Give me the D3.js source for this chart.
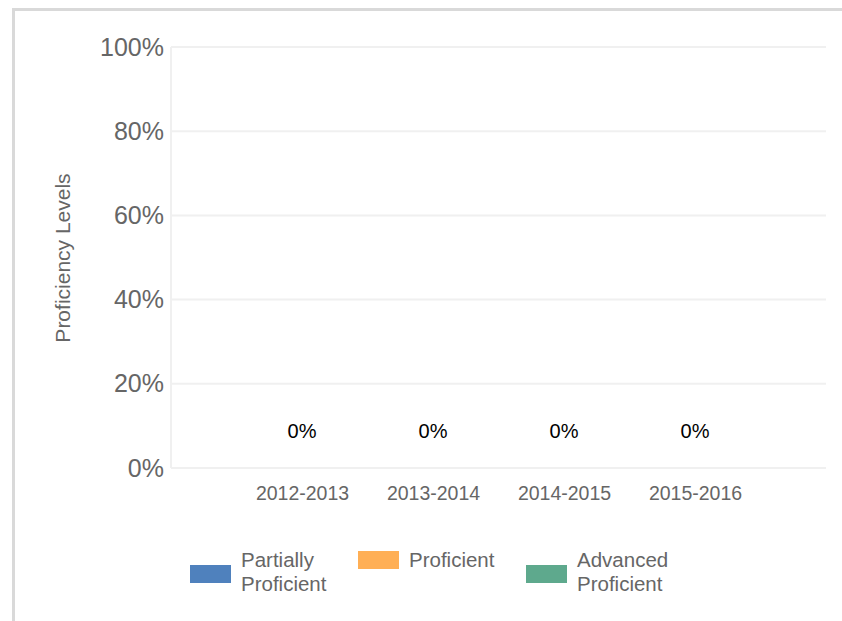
<!DOCTYPE html>
<html>
<head>
<meta charset="utf-8">
<script src="https://cdn.jsdelivr.net/npm/d3@7"></script>
<style>
  body { margin: 0; background: #fff; }
  svg { display: block; font-family: "Liberation Sans", Arial, sans-serif; }
</style>
</head>
<body>
<svg id="chart" width="842" height="621"></svg>
<script>
const years = ['2012-2013', '2013-2014', '2014-2015', '2015-2016'];
const partiallyProficient = [0, 0, 0, 0];
const proficient = [0, 0, 0, 0];
const advancedProficient = [0, 0, 0, 0];
const yTicks = [0, 20, 40, 60, 80, 100];
const seriesNames = ['Partially Proficient', 'Proficient', 'Advanced Proficient'];
const seriesColors = ['#4f81bd', '#ffaf55', '#5ea98d'];

const svg = d3.select('#chart');
const margin = {top: 47, right: 16, bottom: 153, left: 171};
const width = 842 - margin.left - margin.right;
const height = 621 - margin.top - margin.bottom;

// outer frame
svg.append('rect')
    .attr('x', 13.5).attr('y', 9.5)
    .attr('width', 842).attr('height', 630)
    .attr('fill', 'none')
    .attr('stroke', '#d9d9d9')
    .attr('stroke-width', 3);

const g = svg.append('g')
    .attr('transform', `translate(${margin.left},${margin.top})`);

const x = d3.scalePoint()
    .domain(years)
    .range([0, width])
    .padding(1);

const y = d3.scaleLinear()
    .domain([0, 100])
    .range([height, 0]);

// gridlines
g.selectAll('line.grid')
    .data(yTicks)
    .join('line')
    .classed('grid', true)
    .attr('x1', 0).attr('x2', width)
    .attr('y1', d => y(d)).attr('y2', d => y(d))
    .attr('stroke', '#f0f0f0')
    .attr('stroke-width', 2);

g.append('line')
    .attr('x1', 0).attr('x2', 0)
    .attr('y1', 0).attr('y2', height)
    .attr('stroke', '#f0f0f0')
    .attr('stroke-width', 2);

// y axis
const yAxis = g.append('g')
    .call(d3.axisLeft(y).tickValues(yTicks).tickFormat(d => d + '%').tickSize(0).tickPadding(7));
yAxis.select('.domain').remove();
yAxis.selectAll('text')
    .attr('fill', '#666')
    .style('font-size', '25px')
    .style('font-family', '"Liberation Sans", Arial, sans-serif');

// x axis
const xAxis = g.append('g')
    .attr('transform', `translate(0,${height})`)
    .call(d3.axisBottom(x).tickSize(0).tickPadding(18));
xAxis.select('.domain').remove();
xAxis.selectAll('text')
    .attr('fill', '#666')
    .style('font-size', '19.5px')
    .style('font-family', '"Liberation Sans", Arial, sans-serif');

// stacked bars (all zero)
const rows = years.map((yr, i) => ({
    year: yr,
    'Partially Proficient': partiallyProficient[i],
    'Proficient': proficient[i],
    'Advanced Proficient': advancedProficient[i]
}));
const stacked = d3.stack().keys(seriesNames)(rows);
const barW = 60;
g.selectAll('g.series')
    .data(stacked)
    .join('g')
    .classed('series', true)
    .attr('fill', (d, i) => seriesColors[i])
    .selectAll('rect')
    .data(d => d)
    .join('rect')
    .attr('x', d => x(d.data.year) - barW / 2)
    .attr('width', barW)
    .attr('y', d => y(d[1]))
    .attr('height', d => y(d[0]) - y(d[1]));

// total labels
const totalOf = d => d['Partially Proficient'] + d['Proficient'] + d['Advanced Proficient'];
g.selectAll('text.total')
    .data(rows)
    .join('text')
    .classed('total', true)
    .attr('x', d => x(d.year))
    .attr('y', d => y(totalOf(d)) - 30)
    .attr('text-anchor', 'middle')
    .attr('fill', '#000')
    .style('font-size', '20px')
    .text(d => totalOf(d) + '%');

// y axis title
svg.append('text')
    .attr('transform', 'translate(70,258) rotate(-90)')
    .attr('text-anchor', 'middle')
    .attr('fill', '#666')
    .style('font-size', '21px')
    .text('Proficiency Levels');

// legend
const legendItems = [
    {lines: ['Partially', 'Proficient'], x: 190},
    {lines: ['Proficient'], x: 358},
    {lines: ['Advanced', 'Proficient'], x: 526}
];
const legend = svg.append('g');
legendItems.forEach((item, i) => {
    const lg = legend.append('g').attr('transform', `translate(${item.x},0)`);
    const midY = item.lines.length === 2 ? 574 : 560;
    lg.append('rect')
        .attr('x', 0).attr('y', midY - 9)
        .attr('width', 41).attr('height', 18)
        .attr('fill', seriesColors[i]);
    lg.selectAll('text')
        .data(item.lines)
        .join('text')
        .attr('x', 51)
        .attr('y', (d, j) => 567 + j * 24)
        .attr('fill', '#666')
        .style('font-size', '20.5px')
        .text(d => d);
});
</script>
</body>
</html>
